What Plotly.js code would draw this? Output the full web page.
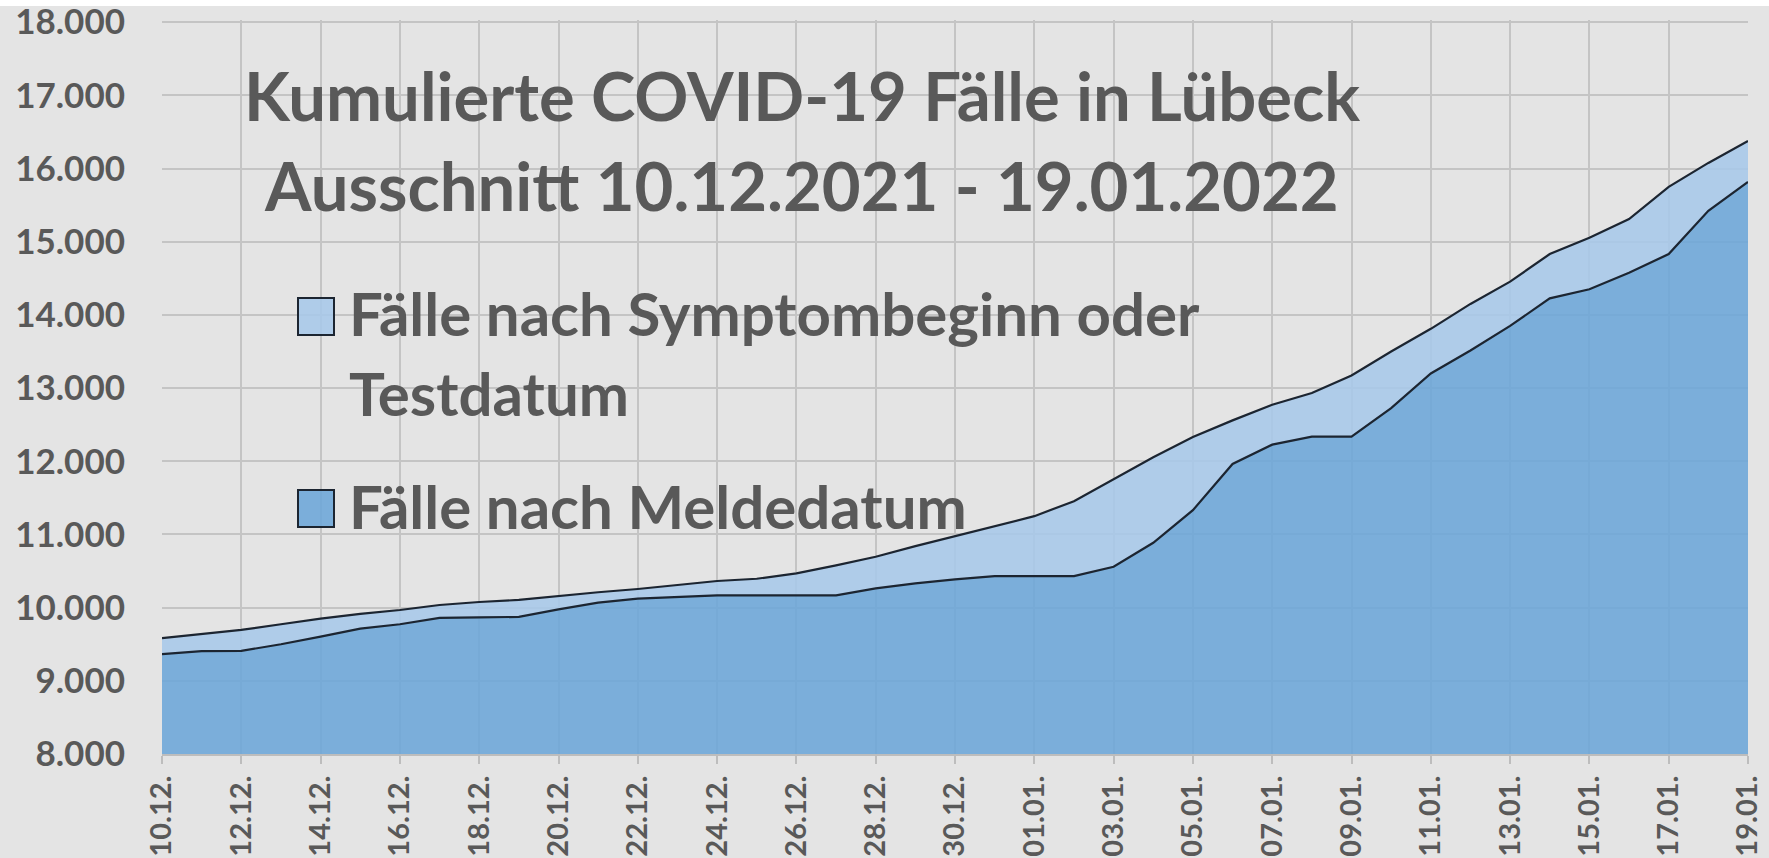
<!DOCTYPE html>
<html>
<head>
<meta charset="utf-8">
<script src="https://cdn.plot.ly/plotly-3.0.1.min.js"></script>
<style>html,body{margin:0;padding:0;background:#e4e4e4;}#chart{width:1769px;height:858px;}</style>
</head>
<body>
<div id="chart"></div>
<script>
const dates = ["10.12.","11.12.","12.12.","13.12.","14.12.","15.12.","16.12.","17.12.","18.12.","19.12.",
  "20.12.","21.12.","22.12.","23.12.","24.12.","25.12.","26.12.","27.12.","28.12.","29.12.",
  "30.12.","31.12.","01.01.","02.01.","03.01.","04.01.","05.01.","06.01.","07.01.","08.01.",
  "09.01.","10.01.","11.01.","12.01.","13.01.","14.01.","15.01.","16.01.","17.01.","18.01.","19.01."];
const faelleSymptom = [9582, 9640, 9695, 9773, 9850, 9914, 9968, 10036, 10077, 10105,
  10159, 10210, 10255, 10309, 10364, 10395, 10468, 10577, 10695, 10841,
  10977, 11105, 11250, 11455, 11750, 12055, 12332, 12559, 12773, 12932,
  13173, 13500, 13810, 14150, 14455, 14832, 15055, 15309, 15750, 16077, 16377];
const faelleMelde = [9364, 9405, 9409, 9500, 9605, 9714, 9773, 9859, 9868, 9873,
  9977, 10068, 10123, 10150, 10168, 10168, 10168, 10168, 10264, 10332,
  10386, 10430, 10430, 10430, 10559, 10886, 11332, 11964, 12227, 12336,
  12336, 12727, 13200, 13514, 13850, 14227, 14350, 14577, 14832, 15423, 15818];
const seriesNames = ["Fälle nach Symptombeginn oder", "Testdatum", "Fälle nach Meldedatum"];
const titleLines = ["Kumulierte COVID-19 Fälle in Lübeck", "Ausschnitt 10.12.2021 - 19.01.2022"];

const W = 1769, H = 858;
const M = {l: 162, r: 21, t: 20, b: 104};
const pw = W - M.l - M.r, ph = H - M.t - M.b;
const px = x => (x - M.l) / pw;
const py = y => (H - M.b - y) / ph;

const textColor = '#595959';
const lineColor = '#1c2531';
const darkFill = 'rgba(106,165,216,0.86)';
const lightFill = 'rgba(166,200,234,0.86)';
const FONT = 'Lato, "Open Sans", sans-serif';

const traces = [
  {x: dates, y: faelleMelde, type: 'scatter', mode: 'lines', fill: 'tozeroy',
   fillcolor: darkFill, line: {color: lineColor, width: 2.2}, name: seriesNames[2], hoverinfo: 'x+y'},
  {x: dates, y: faelleSymptom, type: 'scatter', mode: 'lines', fill: 'tonexty',
   fillcolor: lightFill, line: {color: lineColor, width: 2.2}, name: seriesNames[0] + ' ' + seriesNames[1], hoverinfo: 'x+y'}
];

const legFont = {family: FONT, size: 60, color: textColor, weight: 700};
const titleFont = {family: FONT, size: 67, color: textColor, weight: 700};

const layout = {
  width: W, height: H,
  margin: M,
  paper_bgcolor: '#e4e4e4',
  plot_bgcolor: '#e4e4e4',
  separators: ',.',
  showlegend: false,
  xaxis: {
    type: 'category', range: [0, 40], tickmode: 'linear', tick0: 0, dtick: 2,
    tickangle: -90, showgrid: true, gridcolor: '#c4c4c4', gridwidth: 2,
    showline: true, linecolor: '#bdbdbd', linewidth: 2,
    ticks: 'outside', ticklen: 8, tickwidth: 2, tickcolor: '#bdbdbd',
    tickfont: {family: FONT, size: 29, color: textColor, weight: 700},
    zeroline: false, fixedrange: true
  },
  yaxis: {
    range: [8000, 18030], tickmode: 'linear', dtick: 1000, tick0: 8000, tickformat: ',d',
    showgrid: true, gridcolor: '#c4c4c4', gridwidth: 2, zeroline: false,
    showline: false, ticks: '', ticklabelstandoff: 36, ticklabeloverflow: 'allow',
    tickfont: {family: FONT, size: 35, color: textColor, weight: 700},
    fixedrange: true
  },
  shapes: [
    {type: 'rect', xref: 'paper', yref: 'paper', x0: px(0), x1: px(W), y0: py(6), y1: py(0),
     fillcolor: '#ffffff', line: {width: 0}, layer: 'above'},
    {type: 'rect', xref: 'paper', yref: 'paper', x0: px(298), x1: px(334), y0: py(335), y1: py(298),
     fillcolor: lightFill, line: {color: lineColor, width: 2}},
    {type: 'rect', xref: 'paper', yref: 'paper', x0: px(298), x1: px(334), y0: py(527), y1: py(490),
     fillcolor: darkFill, line: {color: lineColor, width: 2}}
  ],
  annotations: [
    {text: titleLines[0], xref: 'paper', yref: 'paper', x: px(802), y: py(95), xanchor: 'center', yanchor: 'middle', showarrow: false, font: titleFont},
    {text: titleLines[1], xref: 'paper', yref: 'paper', x: px(801), y: py(185), xanchor: 'center', yanchor: 'middle', showarrow: false, font: titleFont},
    {text: seriesNames[0], xref: 'paper', yref: 'paper', x: px(347), y: py(313), xanchor: 'left', yanchor: 'middle', showarrow: false, font: legFont},
    {text: seriesNames[1], xref: 'paper', yref: 'paper', x: px(347), y: py(393), xanchor: 'left', yanchor: 'middle', showarrow: false, font: legFont},
    {text: seriesNames[2], xref: 'paper', yref: 'paper', x: px(347), y: py(506), xanchor: 'left', yanchor: 'middle', showarrow: false, font: legFont}
  ]
};

Plotly.newPlot('chart', traces, layout, {displayModeBar: false, staticPlot: true});
</script>
</body>
</html>
